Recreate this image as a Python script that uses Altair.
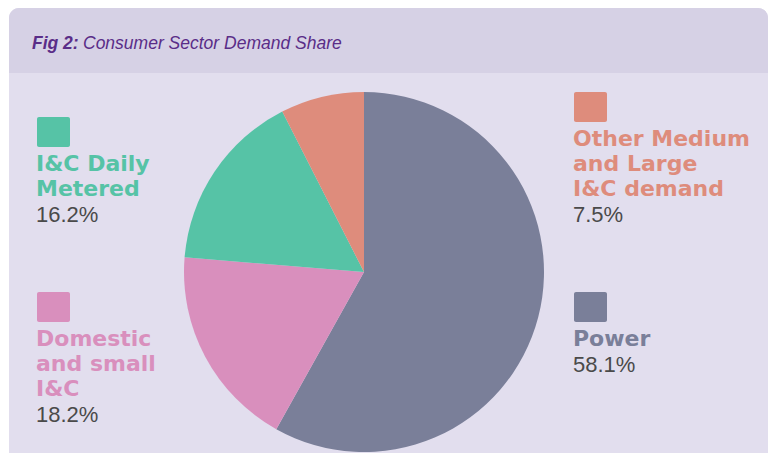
import altair as alt
import pandas as pd

# ---- data ----
categories = ["Power", "Domestic and small I&C", "I&C Daily Metered", "Other Medium and Large I&C demand"]
shares = [58.1, 18.2, 16.2, 7.5]
legend_lines = [["Power"], ["Domestic", "and small", "I&C"], ["I&C Daily", "Metered"], ["Other Medium", "and Large", "I&C demand"]]
colors = ["#7a7f99", "#d98fbd", "#56c3a6", "#de8c7c"]
title_bold = "Fig 2:"
title_rest = "Consumer Sector Demand Share"

# ---- layout (chart pixel coordinates) ----
W, H = 760, 445
HEADER_BG = "#d6d1e5"
BODY_BG = "#e2deee"
TITLE_COLOR = "#5a2d88"
PCT_COLOR = "#4a4a4a"
CX, CY, R = 356, 264, 180
legend_pos = {
    "Power": (566, 284),
    "Domestic and small I&C": (29, 284),
    "I&C Daily Metered": (29, 109),
    "Other Medium and Large I&C demand": (566, 84),
}
LINE_H = 25

one = pd.DataFrame({"a": [0]})

body = alt.Chart(one).mark_rect(
    fill=BODY_BG, cornerRadiusTopLeft=10, cornerRadiusTopRight=10
).encode(x=alt.value(1), x2=alt.value(W), y=alt.value(0), y2=alt.value(H))

header = alt.Chart(one).mark_rect(
    fill=HEADER_BG, cornerRadiusTopLeft=10, cornerRadiusTopRight=10
).encode(x=alt.value(1), x2=alt.value(W), y=alt.value(0), y2=alt.value(65))

t1 = alt.Chart(one).mark_text(
    text=title_bold, font="Liberation Sans",
    fontSize=17.5, fontStyle="italic", fontWeight="bold", color=TITLE_COLOR,
    align="left", baseline="alphabetic"
).encode(x=alt.value(24), y=alt.value(41))

t2 = alt.Chart(one).mark_text(
    text=title_rest, font="Liberation Sans",
    fontSize=17.5, fontStyle="italic", color=TITLE_COLOR,
    align="left", baseline="alphabetic"
).encode(x=alt.value(75), y=alt.value(41))

pie_df = pd.DataFrame({"category": categories, "share": shares, "order": list(range(len(categories)))})
pie = alt.Chart(pie_df).mark_arc(radius=R).encode(
    theta=alt.Theta("share:Q", stack=True),
    order=alt.Order("order:Q", sort="ascending"),
    color=alt.Color("category:N", scale=alt.Scale(domain=categories, range=colors), legend=None),
    x=alt.value(CX),
    y=alt.value(CY),
)

layers = [body, header, t1, t2, pie]
for cat, val, lines, col in zip(categories, shares, legend_lines, colors):
    lx, ly = legend_pos[cat]
    sq = alt.Chart(one).mark_rect(fill=col, cornerRadius=2).encode(
        x=alt.value(lx), x2=alt.value(lx + 33), y=alt.value(ly), y2=alt.value(ly + 30)
    )
    lab = alt.Chart(one).mark_text(
        text=lines, font="DejaVu Sans", fontWeight="bold", fontSize=22, color=col,
        align="left", baseline="alphabetic", lineHeight=LINE_H
    ).encode(x=alt.value(lx - 1), y=alt.value(ly + 54))
    pct = alt.Chart(one).mark_text(
        text=f"{val}%", font="Liberation Sans", fontSize=22, color=PCT_COLOR,
        align="left", baseline="alphabetic"
    ).encode(x=alt.value(lx - 1), y=alt.value(ly + 54 + LINE_H * len(lines) + 1))
    layers += [sq, lab, pct]

chart = alt.layer(*layers).properties(
    width=W, height=H, background="white", padding=0,
    autosize=alt.AutoSizeParams(type="none"),
).configure_view(stroke=None)

chart.save("out.html", embed_options={"renderer": "svg", "actions": False})
